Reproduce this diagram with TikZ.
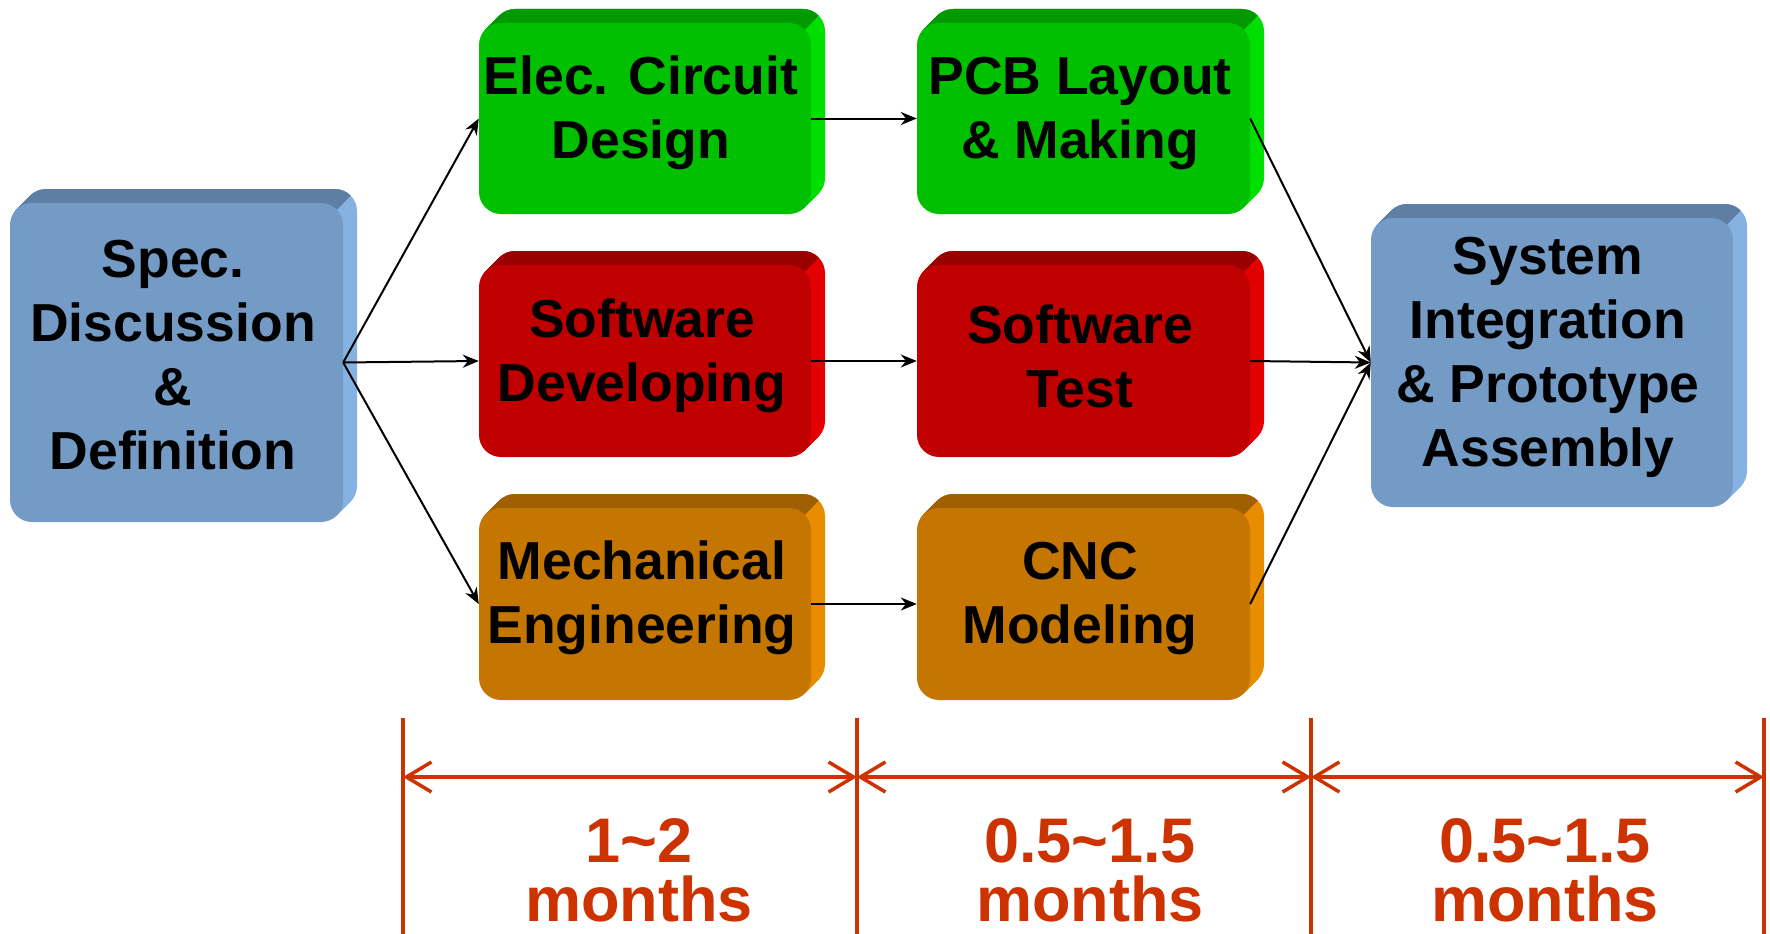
\documentclass[tikz,border=0pt]{standalone}
\usepackage{fontspec}
\setmainfont{Liberation Sans}
\usetikzlibrary{arrows.meta}
\definecolor{bF}{HTML}{739BC6}\definecolor{bT}{HTML}{5E7FA3}\definecolor{bS}{HTML}{86B2E2}
\definecolor{gF}{HTML}{00C000}\definecolor{gT}{HTML}{009A00}\definecolor{gS}{HTML}{00E000}
\definecolor{rF}{HTML}{C00000}\definecolor{rT}{HTML}{9A0000}\definecolor{rS}{HTML}{E20000}
\definecolor{oF}{HTML}{C47600}\definecolor{oT}{HTML}{A05F00}\definecolor{oS}{HTML}{E88C00}
\definecolor{dimc}{HTML}{CC3300}
\newcommand\tdbox[8]{%
  \foreach \k in {1,...,14}{\fill[#8,rounded corners=22pt] ({#2+\k},{#3-\k}) rectangle ({#4+\k},{#5-\k});}
  \begin{scope}
    \clip ({#2-60},{#3+22}) -- ({#2-60},{#3-80}) -- ({#4+80},{#3-80}) -- ({#4+53.56},{#3-53.56}) -- ({#4-6.44},{#3+6.44}) -- ({#4-22},{#3+22}) -- cycle;
    \foreach \k in {1,...,14}{\fill[#7,rounded corners=22pt] ({#2+\k},{#3-\k}) rectangle ({#4+\k},{#5-\k});}
  \end{scope}
  \fill[#6,rounded corners=22pt] (#2,#3) rectangle (#4,#5);
  \node[inner sep=0pt,minimum width={(#4-#2)*1pt},minimum height={(#5-#3)*1pt}] (#1) at ({(#2+#4)/2},{(#3+#5)/2}) {};
}
\begin{document}
\begin{tikzpicture}[x=1pt,y=-1pt,
  boxtext/.style={align=center,font=\bfseries\fontsize{53.5}{64}\selectfont,inner sep=0pt},
  flow/.style={draw=black,line width=2pt,-{Stealth[length=16pt,width=13pt]}},
  dimline/.style={draw=dimc,line width=4.5pt},
  dimarrow/.style={draw=dimc,line width=3.5pt,{Straight Barb[length=25pt,width=30pt]}-{Straight Barb[length=25pt,width=30pt]}},
  dimtext/.style={text=dimc,align=center,font=\bfseries\fontsize{63}{59}\selectfont,inner sep=0pt}]
\useasboundingbox[fill=white] (0,0) rectangle (1770,934);

\tdbox{spec}{10}{203}{343}{522}{bF}{bT}{bS}
\tdbox{elec}{479}{23}{811}{214}{gF}{gT}{gS}
\tdbox{pcb}{917}{23}{1250}{214}{gF}{gT}{gS}
\tdbox{swd}{479}{265}{811}{457}{rF}{rT}{rS}
\tdbox{swt}{917}{265}{1250}{457}{rF}{rT}{rS}
\tdbox{mech}{479}{508}{811}{700}{oF}{oT}{oS}
\tdbox{cnc}{917}{508}{1250}{700}{oF}{oT}{oS}
\tdbox{sys}{1371}{218}{1733}{507}{bF}{bT}{bS}

\node[boxtext] (spec-t) at (173,355) {Spec.\\Discussion\\\&\\Definition};
\node[boxtext] (elec-t) at (641,113) {Elec. Circuit\\Design};
\node[boxtext] (pcb-t) at (1080,113) {PCB Layout\\\& Making};
\node[boxtext] (swd-t) at (642,356) {Software\\Developing};
\node[boxtext] (swt-t) at (1080,356) {Software\\Test};
\node[boxtext] (mech-t) at (642,598) {Mechanical\\Engineering};
\node[boxtext] (cnc-t) at (1080,598) {CNC\\Modeling};
\node[boxtext] (sys-t) at (1548,357) {System\\Integration\\\& Prototype\\Assembly};

\draw[flow] (spec.east) -- (elec.west);
\draw[flow] (spec.east) -- (swd.west);
\draw[flow] (spec.east) -- (mech.west);
\draw[flow] (elec.east) -- (pcb.west);
\draw[flow] (swd.east) -- (swt.west);
\draw[flow] (mech.east) -- (cnc.west);
\draw[flow] (pcb.east) -- (sys.west);
\draw[flow] (swt.east) -- (sys.west);
\draw[flow] (cnc.east) -- (sys.west);

\coordinate (t1) at (403,718);\coordinate (b1) at (403,940);\coordinate (m1) at (403,777);
\coordinate (t2) at (857,718);\coordinate (b2) at (857,940);\coordinate (m2) at (857,777);
\coordinate (t3) at (1311,718);\coordinate (b3) at (1311,940);\coordinate (m3) at (1311,777);
\coordinate (t4) at (1764,718);\coordinate (b4) at (1764,940);\coordinate (m4) at (1764,777);
\draw[dimline] (t1) -- (b1);
\draw[dimline] (t2) -- (b2);
\draw[dimline] (t3) -- (b3);
\draw[dimline] (t4) -- (b4);
\draw[dimarrow] (m1) -- (m2);
\draw[dimarrow] (m2) -- (m3);
\draw[dimarrow] (m3) -- (m4);
\node[dimtext] (d1) at (639,870) {1\textasciitilde 2\\months};
\node[dimtext] (d2) at (1090,870) {0.5\textasciitilde 1.5\\months};
\node[dimtext] (d3) at (1545,870) {0.5\textasciitilde 1.5\\months};
\end{tikzpicture}
\end{document}
